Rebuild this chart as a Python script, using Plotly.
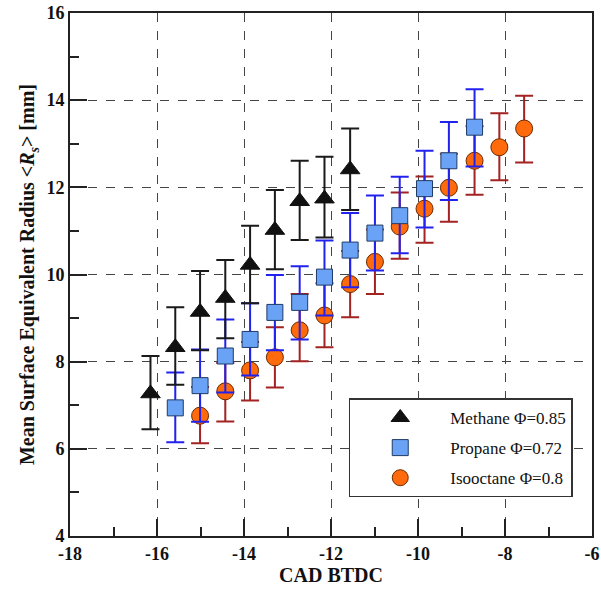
import plotly.graph_objects as go

# Methane phi=0.85
meth_x = [-16.15, -15.58, -15.01, -14.43, -13.86, -13.29, -12.72, -12.15, -11.56]
meth_y = [7.27, 8.33, 9.14, 9.46, 10.22, 11.02, 11.68, 11.74, 12.41]
meth_hi = [8.13, 9.25, 10.08, 10.33, 11.12, 11.94, 12.61, 12.70, 13.35]
meth_lo = [6.45, 7.47, 8.26, 8.54, 9.34, 10.12, 10.79, 10.85, 11.48]

# Propane phi=0.72
prop_x = [-15.58, -15.01, -14.43, -13.86, -13.29, -12.72, -12.15, -11.56, -10.99, -10.42, -9.85, -9.29, -8.70]
prop_y = [6.94, 7.45, 8.13, 8.51, 9.13, 9.36, 9.94, 10.56, 10.95, 11.35, 11.97, 12.61, 13.38]
prop_hi = [7.75, 8.28, 8.97, 9.34, 9.99, 10.19, 10.78, 11.41, 11.81, 12.24, 12.84, 13.50, 14.25]
prop_lo = [6.15, 6.62, 7.29, 7.68, 8.26, 8.51, 9.06, 9.71, 10.09, 10.49, 11.08, 11.71, 12.48]

# Isooctane phi=0.8
iso_x = [-15.01, -14.43, -13.86, -13.29, -12.72, -12.15, -11.56, -10.99, -10.42, -9.85, -9.29, -8.70, -8.13, -7.56]
iso_y = [6.76, 7.32, 7.80, 8.10, 8.72, 9.06, 9.78, 10.29, 11.10, 11.51, 11.99, 12.61, 12.92, 13.35]
iso_hi = [7.42, 7.97, 8.45, 8.79, 9.55, 9.80, 10.54, 11.03, 11.88, 12.25, 12.77, 13.40, 13.70, 14.10]
iso_lo = [6.13, 6.63, 7.11, 7.41, 8.01, 8.33, 9.02, 9.55, 10.36, 10.73, 11.21, 11.83, 12.16, 12.57]

x_ticks = [-18, -16, -14, -12, -10, -8, -6]
y_ticks = [4, 6, 8, 10, 12, 14, 16]

SERIF = "Liberation Serif"


def err(y, hi, lo, color):
    return dict(type="data", symmetric=False,
                array=[h - v for h, v in zip(hi, y)],
                arrayminus=[v - l for v, l in zip(y, lo)],
                color=color, thickness=2, width=9)


fig = go.Figure()
fig.add_trace(go.Scatter(
    x=iso_x, y=iso_y, mode="markers", name="Isooctane \u03a6=0.8", legendrank=3, legendgroup="c",
    marker=dict(symbol="circle", size=17, color="#ff6a0d", line=dict(color="#6b2a00", width=1)),
    error_y=err(iso_y, iso_hi, iso_lo, "#a32222")))
fig.add_trace(go.Scatter(
    x=prop_x, y=prop_y, mode="markers", name="Propane \u03a6=0.72", legendrank=2, legendgroup="b",
    marker=dict(symbol="square", size=16, color="#6aa3f5", line=dict(color="#1f3a66", width=1)),
    error_y=err(prop_y, prop_hi, prop_lo, "#2222ee")))
fig.add_trace(go.Scatter(
    x=meth_x, y=meth_y, mode="markers", name="Methane \u03a6=0.85", legendrank=1, legendgroup="a",
    marker=dict(symbol="triangle-up", size=17, color="#111111", line=dict(color="#111111", width=1)),
    error_y=err(meth_y, meth_hi, meth_lo, "#1a1a1a")))

axis_common = dict(
    showline=True, linecolor="#222", linewidth=2, mirror=True,
    ticks="inside", ticklen=17, tickcolor="#222", tickwidth=2,
    showgrid=True, gridcolor="#444", griddash="dash", gridwidth=1,
    zeroline=False, automargin=False,
    tickfont=dict(family=SERIF, size=18, color="#111", weight="bold"),
    minor=dict(ticks="inside", ticklen=9, tickcolor="#222", tickwidth=2, dtick=1, showgrid=False),
)

fig.update_xaxes(range=[-18, -6], tickvals=x_ticks, ticktext=["<b>%d</b>" % v for v in x_ticks],
                 title=dict(text="<b>CAD BTDC</b>", font=dict(family=SERIF, size=20, color="#111"), standoff=0),
                 **axis_common)
fig.update_yaxes(range=[4, 16], tickvals=y_ticks, ticktext=["<b>%d</b>" % v for v in y_ticks],
                 title=dict(text="<b>Mean Surface Equivalent Radius &lt;<i>R<sub>s</sub></i>&gt; [mm]</b>",
                            font=dict(family=SERIF, size=20, color="#111"), standoff=6),
                 **axis_common)

fig.update_layout(
    width=601, height=592,
    margin=dict(l=70, r=9, t=13, b=56),
    font=dict(family=SERIF, color="#111"),
    plot_bgcolor="white", paper_bgcolor="white",
    legend=dict(x=0.534, y=0.263, xanchor="left", yanchor="top",
                bgcolor="white", bordercolor="#333", borderwidth=1.5,
                font=dict(family=SERIF, size=17, color="#111"),
                itemwidth=90, tracegroupgap=5, traceorder="grouped"),
)

fig.write_html("out.html", config={"displayModeBar": False},
               post_script="document.body.style.margin='0';document.body.style.padding='0';")
